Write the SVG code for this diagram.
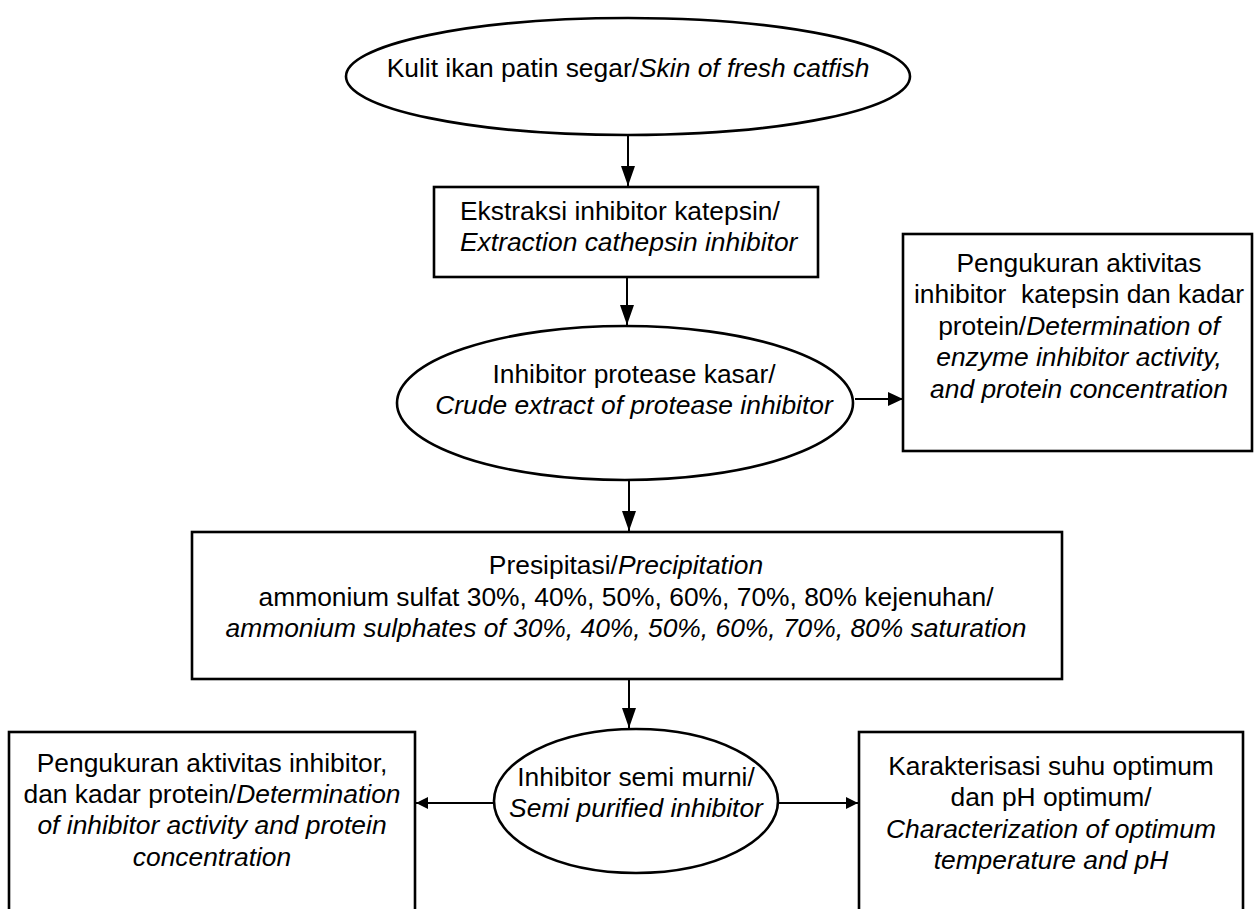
<svg xmlns="http://www.w3.org/2000/svg" width="1257" height="909" viewBox="0 0 1257 909">
<style>
text{font-family:"Liberation Sans",Arial,sans-serif;font-size:26.4px;fill:#000}
.c{text-anchor:middle}
.i{font-style:italic}
.shape{fill:#fff;stroke:#000;stroke-width:2.6}
.line{stroke:#000;stroke-width:2;fill:none}
</style>
<defs>
<marker id="ah" markerUnits="userSpaceOnUse" markerWidth="20" markerHeight="14" refX="20" refY="7" orient="auto"><path d="M0,0 L20,7 L0,14 z" fill="#000"/></marker>
<marker id="am" markerUnits="userSpaceOnUse" markerWidth="15" markerHeight="14" refX="15" refY="7" orient="auto"><path d="M0,0 L15,7 L0,14 z" fill="#000"/></marker>
<marker id="as" markerUnits="userSpaceOnUse" markerWidth="12" markerHeight="12" refX="12" refY="6" orient="auto"><path d="M0,0 L12,6 L0,12 z" fill="#000"/></marker>
</defs>
<rect width="1257" height="909" fill="#fff"/>
<g id="connectors">
<line class="line" x1="628" y1="135" x2="628" y2="186" marker-end="url(#ah)"/>
<line class="line" x1="627" y1="277" x2="627" y2="325" marker-end="url(#ah)"/>
<line class="line" x1="855" y1="399" x2="903" y2="399" marker-end="url(#am)"/>
<line class="line" x1="629" y1="480" x2="629" y2="531" marker-end="url(#ah)"/>
<line class="line" x1="629" y1="679" x2="629" y2="728" marker-end="url(#ah)"/>
<line class="line" x1="494" y1="803" x2="416" y2="803" marker-end="url(#as)"/>
<line class="line" x1="778" y1="803" x2="858" y2="803" marker-end="url(#as)"/>
</g>
<g id="n1">
<ellipse class="shape" cx="628" cy="76.5" rx="282" ry="58.5"/>
<text class="c" x="628" y="77">Kulit ikan patin segar/<tspan class="i">Skin of fresh catfish</tspan></text>
</g>
<g id="n2">
<rect class="shape" x="434" y="187" width="384" height="90"/>
<text x="460" y="220">Ekstraksi inhibitor katepsin/</text>
<text class="i" x="460" y="251">Extraction cathepsin inhibitor</text>
</g>
<g id="n3">
<ellipse class="shape" cx="625" cy="403" rx="228" ry="77"/>
<text class="c" x="634" y="383">Inhibitor protease kasar/</text>
<text class="c i" x="634" y="414">Crude extract of protease inhibitor</text>
</g>
<g id="n4">
<rect class="shape" x="903" y="234" width="349" height="217"/>
<text class="c" x="1079" y="271.5">Pengukuran aktivitas</text>
<text class="c" x="1079" y="303" style="white-space:pre">inhibitor  katepsin dan kadar</text>
<text class="c" x="1079" y="334.7">protein/<tspan class="i">Determination of</tspan></text>
<text class="c i" x="1079" y="366.3">enzyme inhibitor activity,</text>
<text class="c i" x="1079" y="398">and protein concentration</text>
</g>
<g id="n5">
<rect class="shape" x="192" y="532" width="870" height="147"/>
<text class="c" x="626" y="574">Presipitasi/<tspan class="i">Precipitation</tspan></text>
<text class="c" x="626" y="606">ammonium sulfat 30%, 40%, 50%, 60%, 70%, 80% kejenuhan/</text>
<text class="c i" x="626" y="637">ammonium sulphates of 30%, 40%, 50%, 60%, 70%, 80% saturation</text>
</g>
<g id="n6">
<ellipse class="shape" cx="636" cy="801" rx="142" ry="72"/>
<text class="c" x="636" y="786">Inhibitor semi murni/</text>
<text class="c i" x="636" y="817">Semi purified inhibitor</text>
</g>
<g id="n7">
<rect class="shape" x="9" y="732" width="406" height="190"/>
<text class="c" x="212" y="772">Pengukuran aktivitas inhibitor,</text>
<text class="c" x="212" y="803">dan kadar protein/<tspan class="i">Determination</tspan></text>
<text class="c i" x="212" y="834">of inhibitor activity and protein</text>
<text class="c i" x="212" y="866">concentration</text>
</g>
<g id="n8">
<rect class="shape" x="859" y="732" width="384" height="190"/>
<text class="c" x="1051" y="775">Karakterisasi suhu optimum</text>
<text class="c" x="1051" y="806">dan pH optimum/</text>
<text class="c i" x="1051" y="838">Characterization of optimum</text>
<text class="c i" x="1051" y="869">temperature and pH</text>
</g>
</svg>
